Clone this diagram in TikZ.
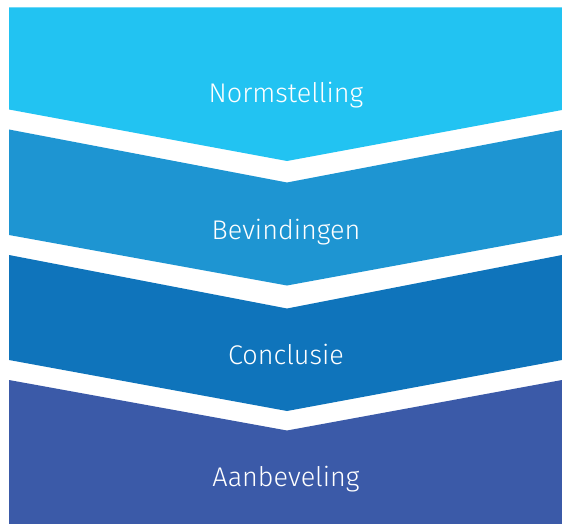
\documentclass[tikz,border=0pt]{standalone}
\usepackage{fontspec}
\setmainfont{Fira Sans}[UprightFont=* Light]
\definecolor{stepA}{HTML}{22C3F2}
\definecolor{stepB}{HTML}{1E95D2}
\definecolor{stepC}{HTML}{0F74BB}
\definecolor{stepD}{HTML}{3B5AA8}
\begin{document}
\begin{tikzpicture}[x=1pt,y=-1pt,
  label/.style={text=white,font=\fontsize{27}{30}\selectfont,inner sep=0pt,anchor=base}]
\useasboundingbox (0,0) rectangle (562,524);
% chevron bands, top to bottom
\fill[stepA] (9,7.5) -- (562,7.5) -- (562,110) -- (287,161) -- (9,109.5) -- cycle;
\fill[stepB] (9,129.5) -- (287,182.5) -- (562,130) -- (562,235) -- (287,285.5) -- (9,235) -- cycle;
\fill[stepC] (9,255) -- (287,308.5) -- (562,255) -- (562,360) -- (287,411) -- (9,360) -- cycle;
\fill[stepD] (9,380) -- (287,430.5) -- (562,380) -- (562,524) -- (9,524) -- cycle;
% labels, placed on their baselines
\node[label] (norm) at (286,102.5) {Normstelling};
\node[label] (bev) at (286,239) {Bevindingen};
\node[label] (conc) at (286,364) {Conclusie};
\node[label] (aanb) at (286,486) {Aanbeveling};
\end{tikzpicture}
\end{document}
